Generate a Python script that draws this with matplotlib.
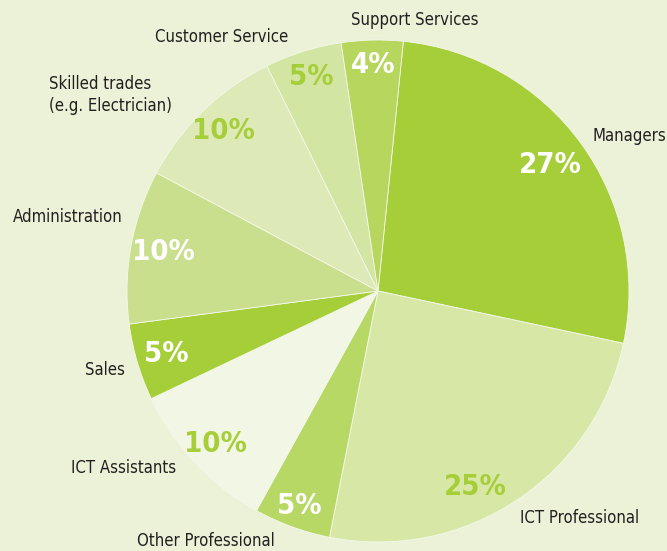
import matplotlib
matplotlib.use("Agg")
import matplotlib.pyplot as plt
import numpy as np

# slices, clockwise from the top
labels = ["Managers", "ICT Professional", "Other Professional", "ICT Assistants",
          "Sales", "Administration", "Skilled trades\n(e.g. Electrician)",
          "Customer Service", "Support Services"]
values = [27, 25, 5, 10, 5, 10, 10, 5, 4]

colors = ["#a6ce39", "#d6e7a6", "#b8d865", "#f2f6e4", "#a6ce39",
          "#cadf8e", "#ddeab8", "#d3e5a2", "#b6d65e"]
pct_colors = ["white", "#a6ce39", "white", "#a6ce39", "white",
              "white", "#a6ce39", "#a6ce39", "white"]
pct_dist = [0.85, 0.87, 0.91, 0.89, 0.88, 0.87, 0.885, 0.895, 0.90]
pct_shift = [0, -7, 0, 0, 0, 0, 0, 0, 0]   # degrees

# outer label spots (data units, pie radius = 1)
lab_x = [1.0, 0.805, -0.685, -1.012, -1.088, -1.235, -1.064, -0.622, 0.147]
lab_y = [0.618, -0.904, -0.996, -0.705, -0.315, 0.295, 0.781, 1.012, 1.08]

bg = "#ecf2d8"
fig = plt.figure(figsize=(6.67, 5.51), dpi=100, facecolor=bg)
ax = fig.add_axes([0, 0, 1, 1])
ax.set_facecolor(bg)

wedges, _ = ax.pie(values, colors=colors, startangle=84.2, counterclock=False,
                   radius=1, wedgeprops=dict(linewidth=0.6, edgecolor="#f4f8ea"))

for i, w in enumerate(wedges):
    mid = np.deg2rad((w.theta1 + w.theta2) / 2 + pct_shift[i])
    ax.text(pct_dist[i] * np.cos(mid), pct_dist[i] * np.sin(mid), f"{values[i]}%",
            ha="center", va="center", fontsize=21, fontweight="bold",
            fontstretch="condensed", family="DejaVu Sans", color=pct_colors[i])
    ax.text(lab_x[i], lab_y[i], labels[i], ha="center", va="center",
            fontsize=12, fontstretch="condensed", family="DejaVu Sans",
            color="#231f20", linespacing=1.25,
            multialignment="left")

ax.set_xlim(-378 / 251, 289 / 251)
ax.set_ylim(-260 / 251, 291 / 251)
ax.set_aspect("auto")
ax.axis("off")

fig.savefig("out.png", dpi=100, facecolor=bg)
